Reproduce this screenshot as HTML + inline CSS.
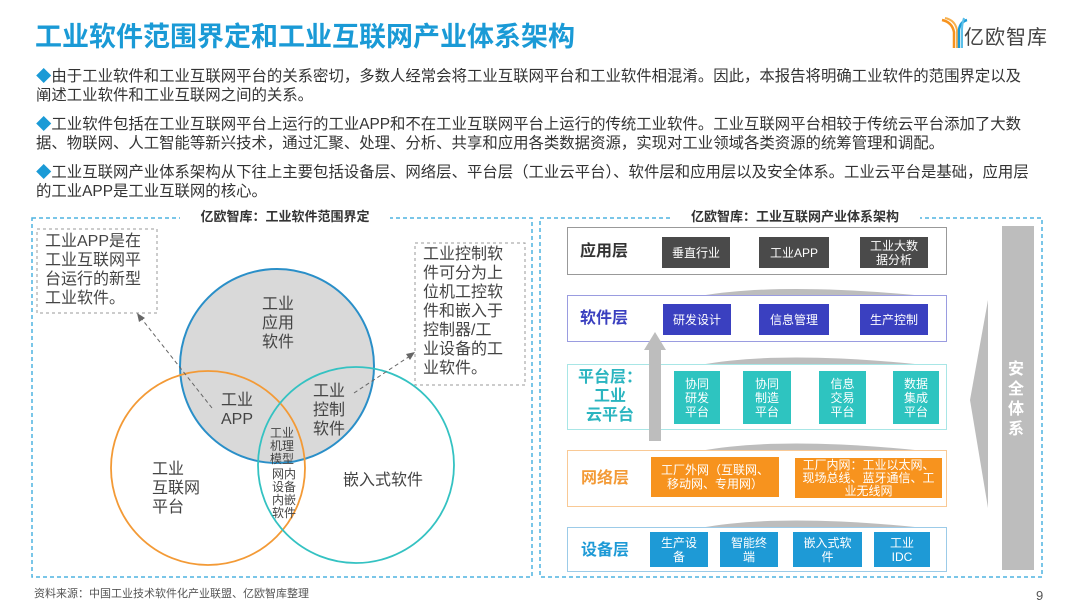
<!DOCTYPE html>
<html><head><meta charset="utf-8"><style>
*{margin:0;padding:0;box-sizing:border-box}
body{width:1080px;height:608px;background:#fff;position:relative;overflow:hidden;font-family:"Liberation Sans","Noto Sans CJK SC",sans-serif;color:#333}
.a{position:absolute}
.p{position:absolute;left:36px;width:1000px;font-size:15.4px;line-height:19px;color:#333}
.p b{color:#1a9ad6;font-weight:normal}
.lay{position:absolute;left:567px;width:380px;background:#fff;border:1.5px solid}
.box{position:absolute;color:#fff;font-size:12px;line-height:14px;display:flex;align-items:center;justify-content:center;text-align:center}
.ll{position:absolute;font-weight:bold;font-size:16px;text-align:center;line-height:19px}
</style></head><body>
<div class="a" style="left:35px;top:15px;font-size:27px;font-weight:bold;color:#1a9ad6">工业软件范围界定和工业互联网产业体系架构</div>
<svg class="a" style="left:940px;top:16px" width="30" height="34" viewBox="0 0 30 34">
<path d="M2 4 Q12 6 14 16 L14 32" stroke="#f7931e" stroke-width="2.5" fill="none"/>
<path d="M5 2 Q15 4 17 14 L17 32" stroke="#f7b04e" stroke-width="2" fill="none"/>
<path d="M27 4 Q20 6 19 14 L19 32" stroke="#1a9ad6" stroke-width="2.5" fill="none"/>
<path d="M24 2 Q22 8 22 14 L22 32" stroke="#5bc0ea" stroke-width="2" fill="none"/></svg>
<div class="a" style="left:964px;top:21px;font-size:20px;color:#444;letter-spacing:1px">亿欧智库</div>

<div class="p" style="top:67px"><b>◆</b>由于工业软件和工业互联网平台的关系密切，多数人经常会将工业互联网平台和工业软件相混淆。因此，本报告将明确工业软件的范围界定以及阐述工业软件和工业互联网之间的关系。</div>
<div class="p" style="top:115px"><b>◆</b>工业软件包括在工业互联网平台上运行的工业APP和不在工业互联网平台上运行的传统工业软件。工业互联网平台相较于传统云平台添加了大数据、物联网、人工智能等新兴技术，通过汇聚、处理、分析、共享和应用各类数据资源，实现对工业领域各类资源的统筹管理和调配。</div>
<div class="p" style="top:163px"><b>◆</b>工业互联网产业体系架构从下往上主要包括设备层、网络层、平台层（工业云平台）、软件层和应用层以及安全体系。工业云平台是基础，应用层的工业APP是工业互联网的核心。</div>

<svg class="a" style="left:0;top:0" width="1080" height="608">
<rect x="32" y="218" width="500" height="359" fill="none" stroke="#4fb3e0" stroke-width="1.5" stroke-dasharray="4,3"/>
<rect x="540" y="218" width="502" height="359" fill="none" stroke="#4fb3e0" stroke-width="1.5" stroke-dasharray="4,3"/>
<rect x="180" y="206" width="210" height="18" fill="#fff"/>
<rect x="670" y="206" width="250" height="18" fill="#fff"/>
<circle cx="277" cy="366" r="97" fill="#d9d9d9" stroke="#2a8fc8" stroke-width="2"/>
<circle cx="208" cy="468" r="97" fill="none" stroke="#f39a36" stroke-width="1.8"/>
<circle cx="356" cy="465" r="98" fill="none" stroke="#34c2c2" stroke-width="1.8"/>
<rect x="37" y="229" width="120" height="84" fill="#fff" stroke="#999" stroke-dasharray="3,3"/>
<rect x="415" y="243" width="110" height="142" fill="#fff" stroke="#999" stroke-dasharray="3,3"/>
<line x1="212" y1="408" x2="141" y2="318" stroke="#666" stroke-dasharray="4,3"/>
<path d="M137 313 L139 322 L145 318 Z" fill="#666"/>
<line x1="354" y1="393" x2="410" y2="356" stroke="#666" stroke-dasharray="4,3"/>
<path d="M415 352 L406 354 L410 360 Z" fill="#666"/>
<path d="M700 296 Q780 282 925 296 Z" fill="#bdbdbd"/>
<path d="M700 365 Q780 350 925 365 Z" fill="#bdbdbd"/>
<path d="M700 451 Q780 436 925 451 Z" fill="#bdbdbd"/>
<path d="M700 528 Q780 513 925 528 Z" fill="#bdbdbd"/>
<path d="M988 300 L970 400 L988 508 Z" fill="#bdbdbd"/>
<rect x="1002" y="226" width="32" height="344" fill="#bdbdbd"/>
</svg>
<div class="a" style="left:180px;top:206px;width:210px;text-align:center;font-size:13px;font-weight:bold;color:#333">亿欧智库：工业软件范围界定</div>
<div class="a" style="left:670px;top:206px;width:250px;text-align:center;font-size:13px;font-weight:bold;color:#333">亿欧智库：工业互联网产业体系架构</div>

<div class="a" style="left:45px;top:232px;font-size:16px;line-height:19px;width:110px;color:#444">工业APP是在工业互联网平台运行的新型工业软件。</div>
<div class="a" style="left:423px;top:245px;font-size:16px;line-height:19px;width:84px;color:#444">工业控制软件可分为上位机工控软件和嵌入于控制器/工业设备的工业软件。</div>
<div class="a" style="left:262px;top:295px;width:34px;font-size:16px;line-height:19px;color:#444">工业应用软件</div>
<div class="a" style="left:220px;top:391px;width:34px;font-size:16px;line-height:19px;color:#444;text-align:center">工业APP</div>
<div class="a" style="left:313px;top:382px;width:34px;font-size:16px;line-height:19px;color:#444">工业控制软件</div>
<div class="a" style="left:270px;top:427px;width:25px;font-size:12px;line-height:13px;height:40px;color:#444">工业<br>机理<br>模型</div>
<div class="a" style="left:272px;top:468px;width:25px;font-size:12px;line-height:13px;color:#444">网内<br>设备<br>内嵌<br>软件</div>
<div class="a" style="left:152px;top:460px;width:50px;font-size:16px;line-height:19px;color:#444">工业<br>互联网<br>平台</div>
<div class="a" style="left:343px;top:466px;font-size:16px;color:#444">嵌入式软件</div>
<div class="a" style="left:34px;top:585px;font-size:11px;color:#555">资料来源：中国工业技术软件化产业联盟、亿欧智库整理</div>
<div class="a" style="left:1036px;top:588px;font-size:13px;color:#555">9</div>

<div class="lay" style="top:227px;height:48px;border-color:#999"></div>
<div class="lay" style="top:295px;height:47px;border-color:#9a9ce0"></div>
<div class="lay" style="top:364px;height:66px;border-color:#a8e6e6"></div>
<div class="lay" style="top:450px;height:57px;border-color:#f9c995"></div>
<div class="lay" style="top:527px;height:45px;border-color:#9ccbe8"></div>
<svg class="a" style="left:640px;top:330px" width="30" height="112"><path d="M4 20 L15 2 L26 20 L21 20 L21 111 L9 111 L9 20 Z" fill="#bdbdbd"/></svg>

<div class="ll" style="left:580px;top:242px;color:#333">应用层</div>
<div class="ll" style="left:580px;top:309px;color:#3a3fbf">软件层</div>
<div class="ll" style="left:576px;top:368px;color:#2bb5c0;width:68px">平台层：<br>工业<br>云平台</div>
<div class="ll" style="left:581px;top:469px;color:#f39a36">网络层</div>
<div class="ll" style="left:581px;top:541px;color:#1e9ad6">设备层</div>

<div class="box" style="left:662px;top:237px;width:68px;height:31px;background:#4a4a4a">垂直行业</div>
<div class="box" style="left:759px;top:237px;width:70px;height:31px;background:#4a4a4a">工业APP</div>
<div class="box" style="left:860px;top:237px;width:68px;height:31px;background:#4a4a4a">工业大数<br>据分析</div>
<div class="box" style="left:663px;top:304px;width:68px;height:31px;background:#3a40c0">研发设计</div>
<div class="box" style="left:759px;top:304px;width:70px;height:31px;background:#3a40c0">信息管理</div>
<div class="box" style="left:860px;top:304px;width:68px;height:31px;background:#3a40c0">生产控制</div>
<div class="box" style="left:674px;top:371px;width:46px;height:53px;background:#2ec4c0">协同<br>研发<br>平台</div>
<div class="box" style="left:743px;top:371px;width:48px;height:53px;background:#2ec4c0">协同<br>制造<br>平台</div>
<div class="box" style="left:819px;top:371px;width:47px;height:53px;background:#2ec4c0">信息<br>交易<br>平台</div>
<div class="box" style="left:893px;top:371px;width:46px;height:53px;background:#2ec4c0">数据<br>集成<br>平台</div>
<div class="box" style="left:651px;top:457px;width:128px;height:40px;background:#f7931e;padding:0 6px">工厂外网（互联网、移动网、专用网）</div>
<div class="box" style="left:795px;top:458px;width:147px;height:40px;background:#f7931e;padding:0 6px;line-height:13px">工厂内网：工业以太网、现场总线、蓝牙通信、工业无线网</div>
<div class="box" style="left:650px;top:532px;width:58px;height:35px;background:#1e9ad6">生产设<br>备</div>
<div class="box" style="left:720px;top:532px;width:58px;height:35px;background:#1e9ad6">智能终<br>端</div>
<div class="box" style="left:793px;top:532px;width:69px;height:35px;background:#1e9ad6">嵌入式软<br>件</div>
<div class="box" style="left:874px;top:532px;width:56px;height:35px;background:#1e9ad6">工业<br>IDC</div>
<div class="a" style="left:1008px;top:360px;width:20px;font-size:16px;line-height:20px;font-weight:bold;color:#fff">安全体系</div>
</body></html>
